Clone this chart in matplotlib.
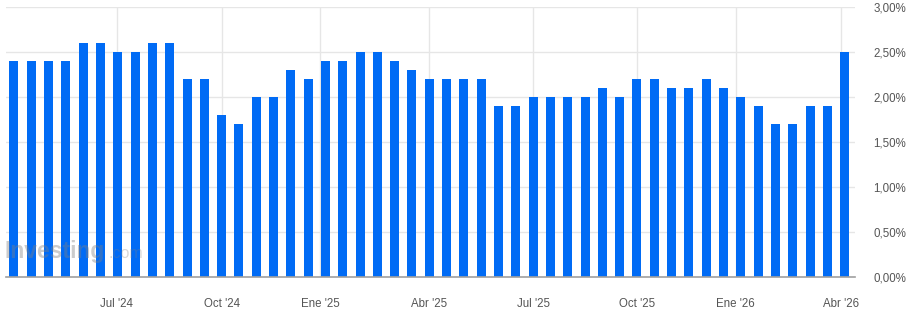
import matplotlib.pyplot as plt

# monthly values (two readings per month), in %
values = [2.4, 2.4, 2.4, 2.4, 2.6, 2.6, 2.5, 2.5, 2.6, 2.6,
          2.2, 2.2, 1.8, 1.7, 2.0, 2.0, 2.3, 2.2, 2.4, 2.4,
          2.5, 2.5, 2.4, 2.3, 2.2, 2.2, 2.2, 2.2, 1.9, 1.9,
          2.0, 2.0, 2.0, 2.0, 2.1, 2.0, 2.2, 2.2, 2.1, 2.1,
          2.2, 2.1, 2.0, 1.9, 1.7, 1.7, 1.9, 1.9, 2.5]
tick_labels = ["Jul '24", "Oct '24", "Ene '25", "Abr '25",
               "Jul '25", "Oct '25", "Ene '26", "Abr '26"]
tick_pos = [5.94, 12.0, 17.71, 24.0, 30.0, 36.0, 41.7, 47.8]
y_ticks = [0, 0.5, 1.0, 1.5, 2.0, 2.5, 3.0]

plt.rcParams['font.family'] = ['Liberation Sans', 'DejaVu Sans']

fig = plt.figure(figsize=(9.16, 3.14), dpi=100)
ax = fig.add_axes([6/916, 1 - 277/314, (855-6)/916, (277-7)/314])

x = list(range(len(values)))
ax.bar(x, values, width=0.52, color='#006BF5', zorder=2)

ax.set_xlim(-0.46, 48.6)
ax.set_ylim(0, 3.0)

ax.set_yticks(y_ticks)
ax.set_yticklabels([('%.2f' % v).replace('.', ',') + '%' for v in y_ticks])
ax.yaxis.tick_right()
ax.set_xticks(tick_pos)
ax.set_xticklabels(tick_labels)

ax.tick_params(axis='both', length=0, labelsize=8.3, labelcolor='#555555')
ax.tick_params(axis='x', pad=15)
for lab in ax.get_yticklabels():
    lab.set_horizontalalignment('right')
ax.tick_params(axis='y', pad=37)

ax.grid(True, color='#e6e6e6', linewidth=1, zorder=0)
ax.set_axisbelow(True)
for s in ['top', 'right', 'left']:
    ax.spines[s].set_visible(False)
ax.spines['bottom'].set_color('#a0a0a0')
ax.spines['bottom'].set_linewidth(1.2)

# watermark
ax.text(5/916, 1 - 258/314, 'Investing', transform=fig.transFigure,
        fontsize=16.5, fontweight='bold', color='#808080', alpha=0.4, zorder=5)
ax.text(108/916, 1 - 258/314, '.com', transform=fig.transFigure,
        fontsize=11.5, color='#808080', alpha=0.3, zorder=5)

fig.savefig('out.png', dpi=100)
